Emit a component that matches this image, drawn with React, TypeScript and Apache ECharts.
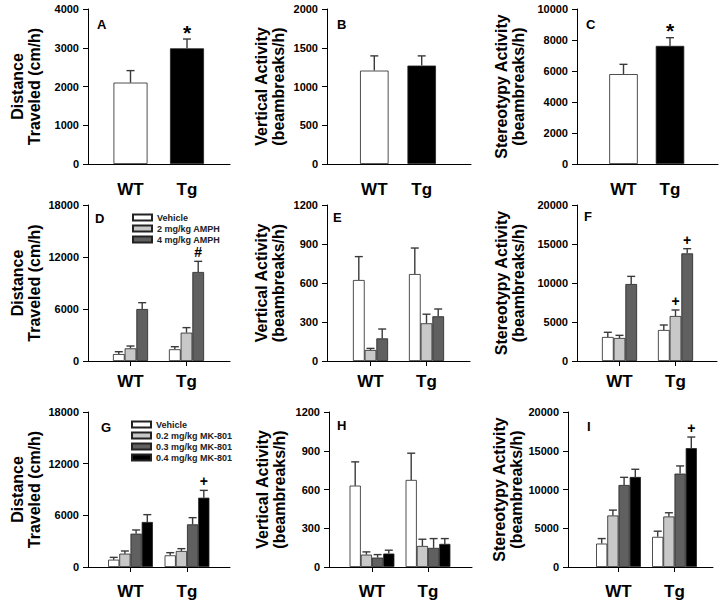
import React, { useEffect, useRef } from 'react';
import * as echarts from 'echarts';

const categories = ['WT', 'Tg'];

// Row 1 (baseline): A distance, B vertical, C stereotypy
const baseColors = ['#ffffff', '#000000'];
const distBaseMeans = [2100, 2985];
const distBaseSem = [310, 240];
const distBaseMarks = ['', '*'];
const vertBaseMeans = [1205, 1270];
const vertBaseSem = [190, 125];
const vertBaseMarks = ['', ''];
const stereoBaseMeans = [5800, 7620];
const stereoBaseSem = [630, 530];
const stereoBaseMarks = ['', '*'];

// Row 2 (AMPH)
const amphNames = ['Vehicle', '2 mg/kg AMPH', '4 mg/kg AMPH'];
const amphColors = ['#ffffff', '#c8c8c8', '#606060'];
const distAmphMeans = [[800, 1350], [1460, 3270], [6000, 10270]];
const distAmphSem = [[270, 300], [270, 580], [730, 1230]];
const distAmphMarks = [['', ''], ['', ''], ['', '#']];
const vertAmphMeans = [[623, 669], [85, 290], [174, 344]];
const vertAmphSem = [[180, 200], [12, 70], [72, 56]];
const vertAmphMarks = [['', ''], ['', ''], ['', '']];
const stereoAmphMeans = [[3080, 3975], [2950, 5770], [9870, 13800]];
const stereoAmphSem = [[600, 640], [340, 770], [980, 600]];
const stereoAmphMarks = [['', ''], ['', '+'], ['', '+']];

// Row 3 (MK-801)
const mkNames = ['Vehicle', '0.2 mg/kg MK-801', '0.3 mg/kg MK-801', '0.4 mg/kg MK-801'];
const mkColors = ['#ffffff', '#c8c8c8', '#606060', '#000000'];
const distMkMeans = [[850, 1355], [1550, 1860], [3870, 4955], [5230, 8050]];
const distMkSem = [[270, 310], [310, 270], [430, 775], [850, 850]];
const distMkMarks = [['', ''], ['', ''], ['', ''], ['', '+']];
const vertMkMeans = [[630, 674], [96, 163], [73, 148], [104, 179]];
const vertMkSem = [[184, 207], [21, 52], [23, 72], [26, 41]];
const vertMkMarks = [['', ''], ['', ''], ['', ''], ['', '']];
const stereoMkMeans = [[3020, 3890], [6650, 6520], [10580, 12050], [11620, 15340]];
const stereoMkSem = [[650, 730], [690, 480], [990, 990], [990, 1430]];
const stereoMkMarks = [['', ''], ['', ''], ['', ''], ['', '+']];

const distName = 'Distance\nTraveled (cm/h)';
const vertName = 'Vertical Activity\n(beambreaks/h)';
const stereoName = 'Stereotypy Activity\n(beambreaks/h)';

const FONT = "'Liberation Sans', Arial, Helvetica, sans-serif";

type SeriesSpec = { name: string; color: string | string[]; means: number[]; sem: number[]; marks: string[] };
type PanelSpec = {
  letter: string; yName: string; max: number; interval: number; series: SeriesSpec[];
  layout: { axisX: number; endX: number; top: number; bottom: number; c1: number; c2: number; barW: number; letterX: number; letterY: number; nameGap: number; labelMargin: number; xTicks: boolean };
};

function groupSeries(names: string[], colors: string[], means: number[][], sem: number[][], marks: string[][]): SeriesSpec[] {
  return names.map((n, i) => ({ name: n, color: colors[i], means: means[i], sem: sem[i], marks: marks[i] }));
}

const panels: PanelSpec[] = [
  { letter: 'A', yName: distName, max: 4000, interval: 1000,
    series: [{ name: 'baseline', color: baseColors, means: distBaseMeans, sem: distBaseSem, marks: distBaseMarks }],
    layout: { axisX: 88, endX: 230, top: 9, bottom: 164, c1: 130.5, c2: 187, barW: 34, letterX: 97, letterY: 25, nameGap: 45, labelMargin: 17, xTicks: false } },
  { letter: 'B', yName: vertName, max: 2000, interval: 500,
    series: [{ name: 'baseline', color: baseColors, means: vertBaseMeans, sem: vertBaseSem, marks: vertBaseMarks }],
    layout: { axisX: 327, endX: 471, top: 9, bottom: 164, c1: 374.3, c2: 421.7, barW: 28.5, letterX: 337, letterY: 25, nameGap: 40, labelMargin: 17, xTicks: false } },
  { letter: 'C', yName: stereoName, max: 10000, interval: 2000,
    series: [{ name: 'baseline', color: baseColors, means: stereoBaseMeans, sem: stereoBaseSem, marks: stereoBaseMarks }],
    layout: { axisX: 577, endX: 718, top: 9, bottom: 164, c1: 623.5, c2: 670, barW: 28.5, letterX: 586, letterY: 25, nameGap: 50, labelMargin: 17, xTicks: false } },
  { letter: 'D', yName: distName, max: 18000, interval: 6000,
    series: groupSeries(amphNames, amphColors, distAmphMeans, distAmphSem, distAmphMarks),
    layout: { axisX: 88, endX: 230, top: 205, bottom: 361, c1: 130.5, c2: 186.5, barW: 11.7, letterX: 95, letterY: 219, nameGap: 45, labelMargin: 12, xTicks: true } },
  { letter: 'E', yName: vertName, max: 1200, interval: 300,
    series: groupSeries(amphNames, amphColors, vertAmphMeans, vertAmphSem, vertAmphMarks),
    layout: { axisX: 327, endX: 470, top: 205, bottom: 361, c1: 370.5, c2: 426.5, barW: 11.7, letterX: 333, letterY: 218, nameGap: 40, labelMargin: 12, xTicks: true } },
  { letter: 'F', yName: stereoName, max: 20000, interval: 5000,
    series: groupSeries(amphNames, amphColors, stereoAmphMeans, stereoAmphSem, stereoAmphMarks),
    layout: { axisX: 577, endX: 717, top: 205, bottom: 361, c1: 619.5, c2: 675.5, barW: 11.7, letterX: 584, letterY: 217, nameGap: 50, labelMargin: 12, xTicks: true } },
  { letter: 'G', yName: distName, max: 18000, interval: 6000,
    series: groupSeries(mkNames, mkColors, distMkMeans, distMkSem, distMkMarks),
    layout: { axisX: 88, endX: 230, top: 412, bottom: 567, c1: 130.5, c2: 187, barW: 11.2, letterX: 101, letterY: 428, nameGap: 45, labelMargin: 16, xTicks: true } },
  { letter: 'H', yName: vertName, max: 1200, interval: 300,
    series: groupSeries(mkNames, mkColors, vertMkMeans, vertMkSem, vertMkMarks),
    layout: { axisX: 329, endX: 472, top: 412, bottom: 567, c1: 372, c2: 428, barW: 11.2, letterX: 337, letterY: 426, nameGap: 41, labelMargin: 16, xTicks: true } },
  { letter: 'I', yName: stereoName, max: 20000, interval: 5000,
    series: groupSeries(mkNames, mkColors, stereoMkMeans, stereoMkSem, stereoMkMarks),
    layout: { axisX: 568, endX: 713, top: 412, bottom: 567, c1: 618.5, c2: 674.5, barW: 11.2, letterX: 587, letterY: 427, nameGap: 41, labelMargin: 16, xTicks: true } },
];

function buildOption() {
  const grid: any[] = [];
  const xAxis: any[] = [];
  const yAxis: any[] = [];
  const series: any[] = [];
  const graphic: any[] = [];
  const axisLineStyle = { color: '#000', width: 1 };

  panels.forEach((p, pi) => {
    const L = p.layout;
    const s = L.c2 - L.c1;
    const h = L.bottom - L.top;
    const fi = pi * 2;
    const bi = pi * 2 + 1;
    grid.push({ left: L.axisX, top: L.top, width: L.endX - L.axisX, height: h });
    grid.push({ left: L.c1 - s / 2, top: L.top, width: 2 * s, height: h });

    xAxis.push({ gridIndex: fi, type: 'value', min: 0, max: 1, axisLine: { show: true, lineStyle: axisLineStyle }, axisTick: { show: false }, axisLabel: { show: false }, splitLine: { show: false } });
    yAxis.push({
      gridIndex: fi, type: 'value', min: 0, max: p.max, interval: p.interval,
      axisLine: { show: true, lineStyle: axisLineStyle },
      axisTick: { show: true, inside: false, length: 5, lineStyle: axisLineStyle },
      axisLabel: { fontSize: 11, fontWeight: 'bold', color: '#000', margin: 9, fontFamily: FONT, formatter: (v: number) => String(v) },
      splitLine: { show: false },
      name: p.yName, nameLocation: 'middle', nameRotate: 90, nameGap: L.nameGap,
      nameTextStyle: { fontSize: 16, fontWeight: 'bold', color: '#000', lineHeight: 17, fontFamily: FONT },
    });
    xAxis.push({
      gridIndex: bi, type: 'category', data: categories,
      axisLine: { show: false },
      axisTick: { show: L.xTicks, alignWithLabel: true, length: 5, lineStyle: axisLineStyle },
      axisLabel: { fontSize: 17, fontWeight: 'bold', color: '#000', margin: L.labelMargin, fontFamily: FONT },
      splitLine: { show: false },
    });
    yAxis.push({ gridIndex: bi, type: 'value', min: 0, max: p.max, show: false });

    const n = p.series.length;
    p.series.forEach((sp, si) => {
      const colors = Array.isArray(sp.color) ? sp.color : null;
      series.push({
        type: 'bar', name: sp.name, xAxisIndex: bi, yAxisIndex: bi,
        barWidth: L.barW, barGap: '0%',
        data: sp.means.map((v, k) => colors ? { value: v, itemStyle: { color: colors[k] } } : v),
        itemStyle: { color: colors ? colors[0] : sp.color, borderColor: '#222', borderWidth: 0.8 },
        emphasis: { disabled: true },
      });
      series.push({
        type: 'custom', name: 'err', xAxisIndex: bi, yAxisIndex: bi, z: 5, silent: true,
        data: sp.means.map((v, k) => [k, v, v + sp.sem[k]]),
        renderItem: (params: any, api: any) => {
          const cat = api.value(0);
          const base = api.coord([cat, api.value(1)]);
          const top = api.coord([cat, api.value(2)]);
          const x = base[0] + (si - (n - 1) / 2) * L.barW;
          const st = { stroke: '#3a3a3a', lineWidth: 1.4 };
          const children: any[] = [
            { type: 'line', shape: { x1: x, y1: base[1], x2: x, y2: top[1] }, style: st },
            { type: 'line', shape: { x1: x - 4, y1: top[1], x2: x + 4, y2: top[1] }, style: st },
          ];
          const mark = sp.marks[params.dataIndex];
          if (mark) {
            children.push({
              type: 'text',
              style: { text: mark, x, y: top[1] - (mark === '*' ? 7 : 9), align: 'center', verticalAlign: 'middle', fontSize: mark === '*' ? 21 : 14, fontWeight: 'bold', fontFamily: FONT, fill: '#000' },
            });
          }
          return { type: 'group', children };
        },
      });
    });

    graphic.push({
      type: 'text', left: L.letterX, top: L.letterY - 7,
      style: { text: p.letter, fontSize: 13, fontWeight: 'bold', fontFamily: FONT, fill: '#000' },
    });
  });

  const legendBase = {
    orient: 'vertical', itemWidth: 19, itemHeight: 6, itemGap: 2, icon: 'rect', selectedMode: false,
    textStyle: { fontSize: 9, fontWeight: 'bold', color: '#222', fontFamily: FONT },
  };
  const legend = [
    { ...legendBase, data: amphNames, left: 127, top: 208 },
    { ...legendBase, data: mkNames, left: 126, top: 415 },
  ];

  return { animation: false, backgroundColor: '#fff', grid, xAxis, yAxis, series, graphic, legend };
}

export default function App() {
  const ref = useRef<HTMLDivElement>(null);
  useEffect(() => {
    if (!ref.current) return;
    const chart = echarts.init(ref.current, undefined, { renderer: 'svg' });
    chart.setOption(buildOption() as any);
    return () => chart.dispose();
  }, []);
  return <div ref={ref} style={{ position: 'absolute', left: 0, top: 0, width: 720, height: 602, background: '#fff' }} />;
}
